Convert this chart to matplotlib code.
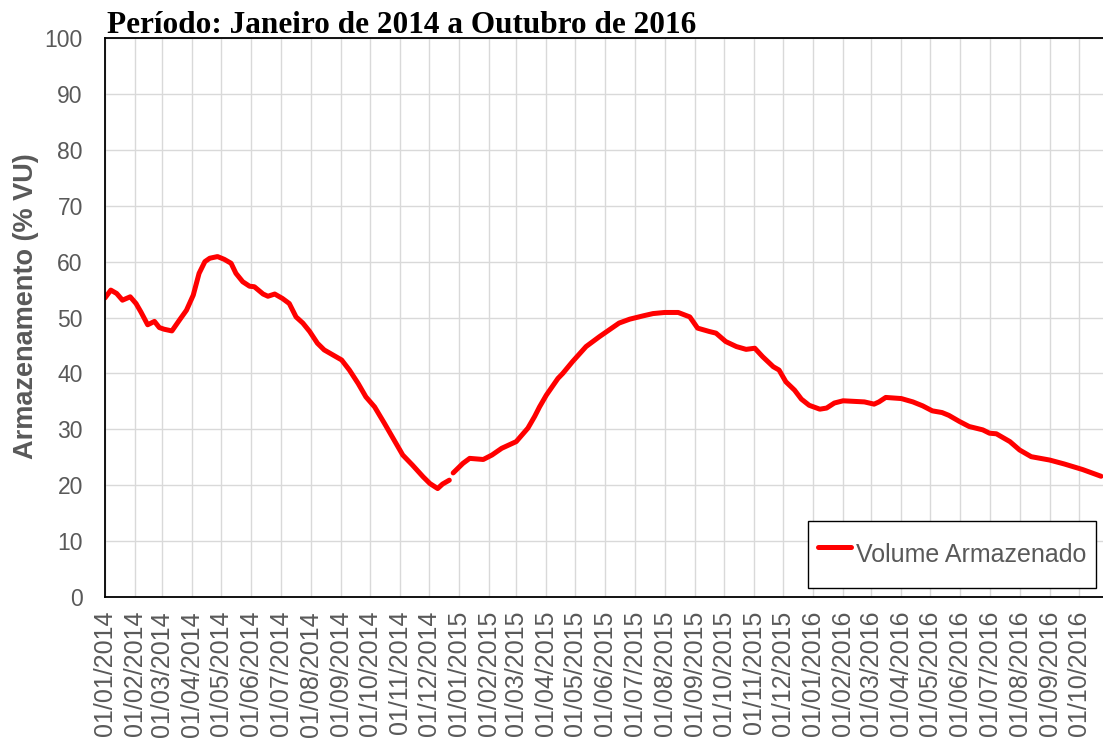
import numpy as np
import pandas as pd
import matplotlib
matplotlib.use("Agg")
import matplotlib.pyplot as plt
import matplotlib.dates as mdates

# volume armazenado (% VU)
datas = [
    "2014-01-01", "2014-01-07", "2014-01-13", "2014-01-19", "2014-01-27", "2014-02-02",
    "2014-02-07", "2014-02-14", "2014-02-21", "2014-02-26", "2014-03-03", "2014-03-11",
    "2014-03-19", "2014-03-26", "2014-04-02", "2014-04-08", "2014-04-14", "2014-04-19",
    "2014-04-27", "2014-05-04", "2014-05-11", "2014-05-16", "2014-05-23", "2014-05-30",
    "2014-06-04", "2014-06-13", "2014-06-18", "2014-06-25", "2014-07-03", "2014-07-10",
    "2014-07-17", "2014-07-24", "2014-07-31", "2014-08-08", "2014-08-15", "2014-08-24",
    "2014-09-02", "2014-09-10", "2014-09-19", "2014-09-27", "2014-10-06", "2014-10-16",
    "2014-10-25", "2014-11-04", "2014-11-14", "2014-11-25", "2014-12-02", "2014-12-10",
    "2014-12-15", "2014-12-22", "2014-12-24", "2014-12-26", "2015-01-05", "2015-01-12",
    "2015-01-26", "2015-02-04", "2015-02-14", "2015-03-01", "2015-03-13", "2015-03-20",
    "2015-03-25", "2015-04-01", "2015-04-13", "2015-04-18", "2015-04-28", "2015-05-12",
    "2015-05-26", "2015-06-05", "2015-06-15", "2015-06-26", "2015-07-10", "2015-07-20",
    "2015-08-01", "2015-08-15", "2015-08-27", "2015-09-04", "2015-09-16", "2015-09-23",
    "2015-10-03", "2015-10-14", "2015-10-24", "2015-11-02", "2015-11-10", "2015-11-21",
    "2015-11-27", "2015-12-04", "2015-12-13", "2015-12-20", "2015-12-28", "2016-01-08",
    "2016-01-15", "2016-01-23", "2016-02-01", "2016-02-23", "2016-03-04", "2016-03-09",
    "2016-03-16", "2016-04-01", "2016-04-13", "2016-04-23", "2016-05-03", "2016-05-13",
    "2016-05-20", "2016-05-31", "2016-06-10", "2016-06-24", "2016-07-01", "2016-07-08",
    "2016-07-22", "2016-08-01", "2016-08-13", "2016-09-01", "2016-09-16", "2016-10-05",
    "2016-10-24",
]
volume = [
    53.5, 54.9, 54.3, 53.1, 53.7, 52.5,
    51.0, 48.7, 49.3, 48.2, 47.9, 47.6,
    49.6, 51.3, 54.0, 57.9, 60.0, 60.6,
    60.9, 60.4, 59.7, 57.9, 56.4, 55.6,
    55.5, 54.2, 53.8, 54.2, 53.4, 52.5,
    50.1, 49.0, 47.5, 45.4, 44.2, 43.3,
    42.4, 40.6, 38.2, 35.8, 34.0, 31.1,
    28.4, 25.4, 23.6, 21.5, 20.3, 19.4,
    20.2, 20.9, np.nan, 22.2, 23.9, 24.8,
    24.6, 25.4, 26.6, 27.8, 30.2, 32.3,
    34.0, 36.1, 39.1, 40.0, 42.1, 44.8,
    46.6, 47.8, 49.0, 49.7, 50.3, 50.7,
    50.9, 50.9, 50.1, 48.1, 47.5, 47.2,
    45.7, 44.8, 44.3, 44.5, 43.0, 41.2,
    40.6, 38.5, 37.0, 35.4, 34.3, 33.6,
    33.8, 34.7, 35.1, 34.9, 34.5, 34.9,
    35.7, 35.5, 34.9, 34.2, 33.3, 33.0,
    32.5, 31.4, 30.5, 29.9, 29.3, 29.2,
    27.8, 26.3, 25.1, 24.5, 23.8, 22.8,
    21.6,
]

datas = pd.to_datetime(datas)
cinza = "#595959"

fig = plt.figure(figsize=(11.03, 7.43), dpi=100)
ax = fig.add_axes([105 / 1103, 1 - 597 / 743, 998 / 1103, 559 / 743])

ax.plot(datas, volume, color="#ff0000", lw=3.6, solid_capstyle="round",
        label="Volume Armazenado")

ax.set_ylim(0, 100)
ax.set_yticks(range(0, 101, 10))
ax.set_xlim(pd.Timestamp("2014-01-01"), pd.Timestamp("2016-10-26"))
ax.xaxis.set_major_locator(mdates.MonthLocator())
ax.xaxis.set_major_formatter(mdates.DateFormatter("%d/%m/%Y"))

ax.grid(True, color="#d9d9d9", lw=1)
ax.set_axisbelow(True)
ax.tick_params(axis="x", length=0, pad=10, labelsize=18, labelcolor=cinza,
               labelrotation=90, labelfontfamily="Liberation Sans")
ax.tick_params(axis="y", length=0, pad=16, labelsize=16.5, labelcolor=cinza,
               labelfontfamily="Liberation Sans")

for s in ["left", "bottom", "top"]:
    ax.spines[s].set_color("black")
    ax.spines[s].set_linewidth(1.3)
ax.spines["right"].set_visible(False)

ax.set_ylabel("Armazenamento (% VU)", fontsize=19.5, fontweight="bold",
              color=cinza, family="Liberation Sans")
ax.yaxis.set_label_coords(-0.066, 0.52)

fig.text(107 / 1103, 1 - 33 / 743, "Período: Janeiro de 2014 a Outubro de 2016",
         fontsize=22.5, fontweight="bold", family="Liberation Serif",
         ha="left", va="baseline")

leg = ax.legend(loc="lower right", bbox_to_anchor=(0.993, 0.016), borderaxespad=0,
                fancybox=False, edgecolor="black", framealpha=1,
                prop={"family": "Liberation Sans", "size": 18},
                handlelength=1.3, handletextpad=0.2, handleheight=2.5,
                borderpad=0.4)
leg.get_frame().set_linewidth(1)
for t in leg.get_texts():
    t.set_color(cinza)

fig.savefig("out.png", dpi=100)
